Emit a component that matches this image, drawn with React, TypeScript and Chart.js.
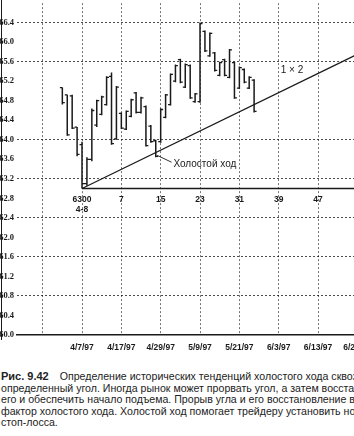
import React, { useEffect, useRef } from "react";
import { Chart, registerables } from "chart.js";

Chart.register(...registerables);

// Session numbers (bar -1 is the 4-8 low at 63.00)
const barIndex = [
  -5, -4, -3, -2, -1, 0, 1, 2, 3, 4, 5, 6, 7, 8, 9, 10, 11, 12, 13, 14,
  15, 16, 17, 18, 19, 20, 21, 22, 23, 24, 25, 26, 27, 28, 29, 30, 31, 32, 33, 34,
];
const highs = [
  65.07, 64.92, 64.92, 64.26, 63.96, 63.64, 64.64, 64.82, 64.9, 65.3,
  65.38, 65.1, 64.56, 64.6, 64.84, 64.98, 64.88, 64.7, 64.3, 64.0,
  64.64, 64.94, 65.36, 65.54, 65.66, 65.56, 65.54, 64.96, 66.4, 66.24,
  66.2, 65.8, 65.6, 65.66, 65.86, 65.6, 65.5, 65.46, 65.3, 65.24,
];
const lows = [
  64.72, 64.08, 64.22, 63.66, 63.0, 63.06, 63.56, 64.26, 64.5, 64.7,
  63.9, 64.0, 64.22, 64.2, 64.46, 64.54, 64.54, 63.86, 63.94, 63.64,
  63.94, 64.44, 64.7, 65.18, 65.16, 65.06, 64.84, 64.76, 64.76, 65.8,
  65.7, 65.4, 65.3, 65.3, 65.26, 64.84, 65.04, 65.16, 65.04, 64.56,
];
const opens = [
  65.07, 64.92, 64.9, 64.26, 63.9, 63.1, 63.6, 64.3, 64.52, 64.72,
  65.3, 64.02, 64.54, 64.22, 64.48, 64.96, 64.56, 64.68, 64.28, 63.98,
  63.96, 64.46, 64.72, 65.2, 65.64, 65.08, 65.52, 64.78, 64.78, 66.22,
  65.72, 65.78, 65.32, 65.64, 65.28, 65.58, 65.06, 65.44, 65.06, 65.22,
];
const closes = [
  64.76, 64.1, 64.24, 63.7, 63.1, 63.6, 64.6, 64.8, 64.88, 65.28,
  63.92, 65.08, 64.24, 64.58, 64.82, 64.56, 64.86, 63.88, 63.96, 63.66,
  64.62, 64.92, 65.34, 65.52, 65.18, 65.54, 64.86, 64.94, 66.38, 65.82,
  66.18, 65.42, 65.58, 65.32, 65.84, 64.86, 65.48, 65.18, 65.28, 64.58,
];

// 1x2 angle drawn from the 63.00 low
const angleStart = { bar: -1, price: 63.0 };
const angleEnd = { bar: 56, price: 65.8 };

// Session-count axis and calendar axis
const countTicks = [-1, 7, 15, 23, 31, 39, 47];
const countLabels: (string | string[])[] = [["6300", "4-8"], "7", "15", "23", "31", "39", "47"];
const dateTicks = [-9, -1, 7, 15, 23, 31, 39, 47, 55];
const dateLabels = ["", "4/7/97", "4/17/97", "4/29/97", "5/9/97", "5/21/97", "6/3/97", "6/13/97", "6/23/97"];
const priceTicks = [60.0, 60.4, 60.8, 61.2, 61.6, 62.0, 62.4, 62.8, 63.2, 63.6, 64.0, 64.4, 64.8, 65.2, 65.6, 66.0, 66.4];
const priceGrid = [60.8, 61.6, 62.4, 63.2, 64.0, 65.6, 66.4];

// Text notes placed in data space
const notes = [
  { text: "1 × 2", bar: 41.7, price: 65.42, align: "center" as CanvasTextAlign },
  { text: "Холостой ход", bar: 17.6, price: 63.5, align: "left" as CanvasTextAlign },
];
const notePointer = [
  { bar: 14.3, price: 63.68 },
  { bar: 17.2, price: 63.54 },
];

const INK = "#1a1a1a";
const GRID_H = "rgba(0,0,0,0.7)";
const GRID_V = "rgba(0,0,0,0.55)";

const notesPlugin = {
  id: "notes",
  afterDatasetsDraw(chart: any) {
    const { ctx, scales } = chart;
    ctx.save();
    ctx.fillStyle = INK;
    ctx.font = '10px "Liberation Sans", Arial, sans-serif';
    ctx.textBaseline = "middle";
    for (const n of notes) {
      ctx.textAlign = n.align;
      ctx.fillText(n.text, scales.x.getPixelForValue(n.bar), scales.y.getPixelForValue(n.price));
    }
    ctx.restore();
  },
};

function ChartView() {
  const ref = useRef<HTMLCanvasElement | null>(null);

  useEffect(() => {
    if (!ref.current) return;

    const ranges: any[] = [];
    const ticks: any[] = [];
    barIndex.forEach((b, i) => {
      ranges.push({ x: b, y: lows[i] }, { x: b, y: highs[i] }, { x: b, y: null });
      ticks.push(
        { x: b - 0.5, y: opens[i] },
        { x: b, y: opens[i] },
        { x: b, y: null },
        { x: b, y: closes[i] },
        { x: b + 0.5, y: closes[i] },
        { x: b, y: null }
      );
    });

    const lineBase = {
      type: "line" as const,
      pointRadius: 0,
      borderColor: INK,
      spanGaps: false,
      tension: 0,
    };

    const chart = new Chart(ref.current, {
      type: "line",
      data: {
        datasets: [
          { ...lineBase, data: ranges, borderWidth: 1.5 },
          { ...lineBase, data: ticks, borderWidth: 1.3 },
          {
            ...lineBase,
            data: [
              { x: angleStart.bar, y: angleStart.price },
              { x: 70, y: angleStart.price },
            ],
            borderWidth: 1.5,
          },
          {
            ...lineBase,
            data: [
              { x: angleStart.bar, y: angleStart.price },
              { x: angleEnd.bar, y: angleEnd.price },
            ],
            borderWidth: 1.2,
          },
          {
            ...lineBase,
            data: notePointer.map((p) => ({ x: p.bar, y: p.price })),
            borderWidth: 0.9,
          },
        ],
      },
      options: {
        animation: false,
        responsive: false,
        devicePixelRatio: 1,
        layout: { padding: 0 },
        plugins: { legend: { display: false }, tooltip: { enabled: false } },
        scales: {
          x: {
            type: "linear",
            position: "bottom",
            min: -14.22,
            max: 63.67,
            afterFit: (s: any) => {
              s.height = 25;
            },
            afterBuildTicks: (s: any) => {
              s.ticks = dateTicks.map((v) => ({ value: v }));
            },
            ticks: {
              autoSkip: false,
              maxRotation: 0,
              padding: 8,
              color: INK,
              font: { family: '"Liberation Sans", Arial, sans-serif', size: 8.5, weight: "bold" },
              callback: (v: any) => {
                const k = dateTicks.indexOf(Number(v));
                return k >= 0 ? dateLabels[k] : "";
              },
            },
            grid: { color: GRID_V, lineWidth: 1, drawTicks: false },
            border: { display: true, color: INK, width: 1.6, dash: [2, 2] },
          },
          x2: {
            type: "linear",
            position: { y: angleStart.price } as any,
            min: -14.22,
            max: 63.67,
            afterBuildTicks: (s: any) => {
              s.ticks = countTicks.map((v) => ({ value: v }));
            },
            ticks: {
              autoSkip: false,
              maxRotation: 0,
              padding: 6,
              color: INK,
              font: { family: '"Liberation Sans", Arial, sans-serif', size: 8.5, weight: "bold" },
              callback: (v: any) => {
                const k = countTicks.indexOf(Number(v));
                return k >= 0 ? countLabels[k] : "";
              },
            },
            grid: { display: false, drawTicks: false },
            border: { display: false },
          },
          y: {
            type: "linear",
            position: "left",
            min: 60.0,
            max: 66.8,
            afterFit: (s: any) => {
              s.width = 17;
            },
            afterBuildTicks: (s: any) => {
              s.ticks = priceTicks.map((v) => ({ value: v }));
            },
            ticks: {
              autoSkip: false,
              padding: 3,
              color: INK,
              font: { family: '"Liberation Serif", serif', size: 8.5, weight: "bold" },
              callback: (v: any) => Number(v).toFixed(1),
            },
            grid: {
              drawTicks: false,
              lineWidth: 1,
              color: (c: any) =>
                priceGrid.some((g) => Math.abs(g - c.tick?.value) < 1e-6) ? GRID_H : "rgba(0,0,0,0)",
            },
            border: { display: false, dash: [2, 2] },
          },
        },
      },
      plugins: [notesPlugin],
    });

    return () => chart.destroy();
  }, []);

  return <canvas ref={ref} width={400} height={365} />;
}

export default function App() {
  const caption: React.CSSProperties = {
    position: "absolute",
    left: 1,
    top: 371,
    width: 420,
    fontFamily: '"Liberation Sans", Arial, sans-serif',
    fontSize: 10.6,
    lineHeight: "11.5px",
    color: "#222",
    whiteSpace: "nowrap",
  };
  return (
    <div
      style={{
        position: "fixed",
        left: 0,
        top: 0,
        width: 354,
        height: 436,
        overflow: "hidden",
        background: "#fff",
      }}
    >
      <div style={{ position: "absolute", left: 1, top: 0, width: 1, height: 340, background: INK }} />
      <div style={{ position: "absolute", left: 0, top: -5, width: 400, height: 365 }}>
        <ChartView />
      </div>
      <div style={caption}>
        <div>
          <b style={{ fontSize: 11 }}>Рис. 9.42</b>
          <span style={{ marginLeft: 11 }}>Определение исторических тенденций холостого хода сквозь</span>
        </div>
        <div>определенный угол. Иногда рынок может прорвать угол, а затем восстановить</div>
        <div>его и обеспечить начало подъема. Прорыв угла и его восстановление выявляют</div>
        <div>фактор холостого хода. Холостой ход помогает трейдеру установить новый</div>
        <div>стоп-лосса.</div>
      </div>
    </div>
  );
}
